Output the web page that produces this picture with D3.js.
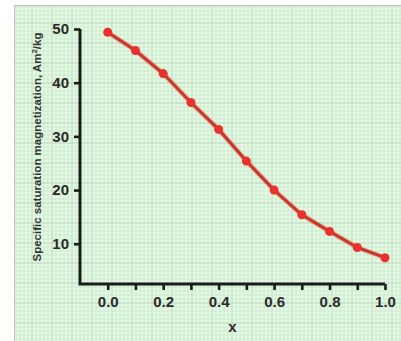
<!DOCTYPE html>
<html>
<head>
<meta charset="utf-8">
<style type="text/css">
    body {
      margin: 0;
      background: #fff;
      font-family: "Liberation Sans", Arial, sans-serif;
    }
</style>
<script src="https://d3js.org/d3.v7.min.js"></script>
</head>
<body>
<svg width="401" height="341"></svg>
<script>
    var xValues = [0.0, 0.1, 0.2, 0.3, 0.4, 0.5, 0.6, 0.7, 0.8, 0.9, 1.0];
    var magnetization = [49.4, 46.0, 41.7, 36.3, 31.3, 25.4, 20.0, 15.4, 12.3, 9.3, 7.4];
    var xTicks = [0.0, 0.1, 0.2, 0.3, 0.4, 0.5, 0.6, 0.7, 0.8, 0.9, 1.0];
    var xTickLabels = ["0.0", "", "0.2", "", "0.4", "", "0.6", "", "0.8", "", "1.0"];
    var yTicks = [10, 20, 30, 40, 50];

    var width = 401,
        height = 341;

    var svg = d3.select("svg");

    // graph paper background
    var paper = {x0: 14, y0: 5, x1: 401, y1: 341};
    svg.append("rect")
        .attr("x", paper.x0).attr("y", paper.y0)
        .attr("width", paper.x1 - paper.x0).attr("height", paper.y1 - paper.y0)
        .style("fill", "#e9f9e9");

    var gridG = svg.append("g");
    d3.range(paper.x0 + 2, paper.x1, 4).forEach(function(x, i) {
        gridG.append("line")
            .attr("x1", x).attr("x2", x).attr("y1", paper.y0).attr("y2", paper.y1)
            .style("stroke", i % 5 == 4 ? "#b6d6b8" : "#c9ecc9")
            .style("stroke-width", 1);
    });
    d3.range(paper.y0 + 2, paper.y1, 4).forEach(function(y, i) {
        gridG.append("line")
            .attr("x1", paper.x0).attr("x2", paper.x1).attr("y1", y).attr("y2", y)
            .style("stroke", i % 5 == 4 ? "#b6d6b8" : "#c9ecc9")
            .style("stroke-width", 1);
    });
    svg.append("line")
        .attr("x1", paper.x0).attr("x2", paper.x1).attr("y1", paper.y0 + 0.5).attr("y2", paper.y0 + 0.5)
        .style("stroke", "#bdbdbd");
    svg.append("line")
        .attr("x1", paper.x0 + 0.5).attr("x2", paper.x0 + 0.5).attr("y1", paper.y0).attr("y2", paper.y1)
        .style("stroke", "#c4c4c4");

    var x = d3.scaleLinear().domain([-0.1, 1.0]).range([80, 385]);
    var y = d3.scaleLinear().domain([2.5, 50]).range([284, 29]);

    // axes
    var xAxis = d3.axisBottom(x)
        .tickValues(xTicks)
        .tickSize(6)
        .tickPadding(6)
        .tickFormat(function(d, i) { return xTickLabels[i]; });

    var yAxis = d3.axisLeft(y)
        .tickValues(yTicks)
        .tickSize(6)
        .tickPadding(5)
        .tickFormat(d3.format("d"));

    var gx = svg.append("g")
        .attr("transform", "translate(0," + y.range()[0] + ")")
        .call(xAxis);
    var gy = svg.append("g")
        .attr("transform", "translate(" + x.range()[0] + ",0)")
        .call(yAxis);

    [gx, gy].forEach(function(g) {
        g.select(".domain")
            .attr("d", null);
        g.selectAll(".tick line")
            .style("stroke", "#1c1c1c")
            .style("stroke-width", 2.6);
        g.selectAll(".tick text")
            .style("font-size", "15px")
            .style("font-weight", "bold")
            .style("fill", "#2a2a2a")
            .style("font-family", "'Liberation Sans', Arial, sans-serif");
    });

    // L-shaped axis frame
    svg.append("path")
        .attr("d", "M" + x.range()[0] + "," + y.range()[1] + "V" + y.range()[0] + "H" + x.range()[1])
        .style("fill", "none")
        .style("stroke", "#1c1c1c")
        .style("stroke-width", 3)
        .style("stroke-linejoin", "miter");

    // axis titles
    svg.append("text")
        .attr("x", x(0.45))
        .attr("y", 332)
        .attr("text-anchor", "middle")
        .style("font-size", "15px")
        .style("font-weight", "bold")
        .style("fill", "#2a2a2a")
        .text("x");

    var yt = svg.append("text")
        .attr("transform", "translate(41,147) rotate(-90)")
        .attr("text-anchor", "middle")
        .style("font-size", "11.5px")
        .style("font-weight", "bold")
        .style("fill", "#333");
    yt.append("tspan").text("Specific saturation magnetization, Am");
    yt.append("tspan").attr("dy", -4).style("font-size", "8px").text("2");
    yt.append("tspan").attr("dy", 4).text("/kg");

    // data line
    var data = xValues.map(function(v, i) { return [v, magnetization[i]]; });
    var line = d3.line()
        .x(function(d) { return x(d[0]); })
        .y(function(d) { return y(d[1]); });

    svg.append("path")
        .datum(data)
        .attr("d", line)
        .style("fill", "none")
        .style("stroke", "#f06a5e")
        .style("stroke-opacity", 0.5)
        .style("stroke-width", 5);
    svg.append("path")
        .datum(data)
        .attr("d", line)
        .style("fill", "none")
        .style("stroke", "#c53a2c")
        .style("stroke-width", 3);

    svg.selectAll(".dot")
        .data(data)
        .enter().append("circle")
        .attr("class", "dot")
        .attr("cx", function(d) { return x(d[0]); })
        .attr("cy", function(d) { return y(d[1]); })
        .attr("r", 4.5)
        .style("fill", "#e8322b");
</script>
</body>
</html>
